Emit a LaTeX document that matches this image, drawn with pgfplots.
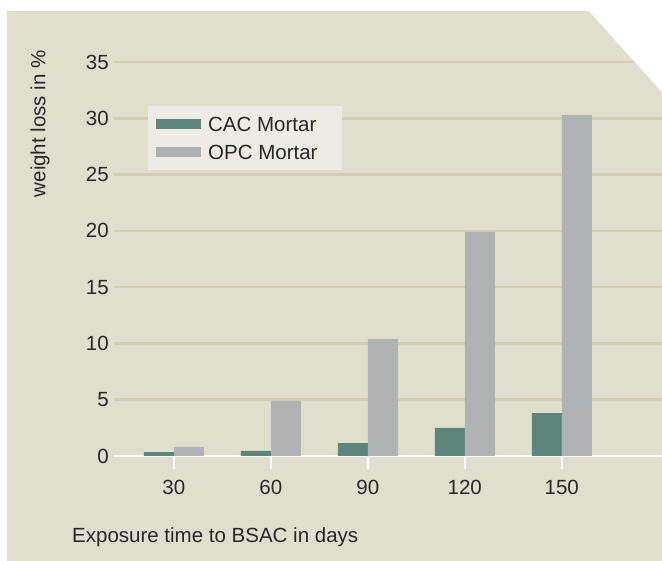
\documentclass[border=0pt]{standalone}
\usepackage{pgfplots}
\pgfplotsset{compat=1.18}
\usepackage{fontspec}
\setmainfont{Liberation Sans}
\definecolor{bgc}{RGB}{224,223,206}
\definecolor{gridc}{RGB}{211,204,184}
\definecolor{cac}{RGB}{94,133,122}
\definecolor{opc}{RGB}{177,178,180}
\definecolor{legbg}{RGB}{237,235,227}
\definecolor{txt}{RGB}{40,40,40}
\newcommand{\cf}{\fontsize{20.5}{24}\selectfont}
\begin{document}
\begin{tikzpicture}
\useasboundingbox (0pt,0pt) rectangle (662pt,561pt);
\fill[bgc] (7pt,0pt) -- (7pt,550pt) -- (589pt,550pt) -- (662pt,469pt) -- (662pt,0pt) -- cycle;
\begin{axis}[
  at={(114pt,105pt)}, anchor=south west, scale only axis,
  width=548pt, height=394pt,
  xmin=11.5, xmax=181, ymin=0, ymax=35,
  ybar=0pt, bar width=30pt,
  axis x line*=bottom, axis y line*=left,
  x axis line style={white, line width=2.5pt},
  y axis line style={draw=none},
  xtick={30,60,90,120,150}, ytick={0,5,...,35},
  xtick align=outside, major tick length=13pt,
  xtick style={draw=white, line width=2pt},
  ytick style={draw=none},
  ymajorgrids, grid style={gridc, line width=2.5pt},
  tick label style={font=\cf, text=txt},
  /pgf/number format/assume math mode=true,
  xticklabel style={inner sep=0pt, anchor=north, yshift=-11pt},
  yticklabel style={inner sep=0pt, anchor=east, xshift=-5pt},
  legend style={at={(axis description cs:0.062,0.888)}, anchor=north west,
    fill=legbg, draw=none, inner xsep=8pt, inner ysep=4pt, font=\cf, text=txt,
    row sep=0pt, nodes={inner xsep=7pt, inner ysep=6.7pt, text depth=0pt, anchor=west}},
  legend cell align=left,
  clip=false,
]
\addplot[fill=cac, draw=none, legend image code/.code={\fill[cac] (0pt,-5pt) rectangle (45pt,5pt);}]
  coordinates {(30,0.35) (60,0.45) (90,1.15) (120,2.5) (150,3.8)};
\addlegendentry{CAC Mortar\hspace*{9pt}}
\addplot[fill=opc, draw=none, legend image code/.code={\fill[opc] (0pt,-5pt) rectangle (45pt,5pt);}]
  coordinates {(30,0.8) (60,4.9) (90,10.4) (120,19.9) (150,30.3)};
\addlegendentry{OPC Mortar\hspace*{9pt}}
\end{axis}
\fill[white] (589pt,550pt) -- (662pt,469pt) -- (663pt,469pt) -- (663pt,562pt) -- (589pt,562pt) -- cycle;
\node[rotate=90, anchor=east, font=\cf, text=txt, inner sep=0pt] at (40pt,511pt) {weight loss in \%};
\node[anchor=base west, font=\cf, text=txt, inner sep=0pt] at (72pt,18pt) {Exposure time to BSAC in days};
\end{tikzpicture}
\end{document}
